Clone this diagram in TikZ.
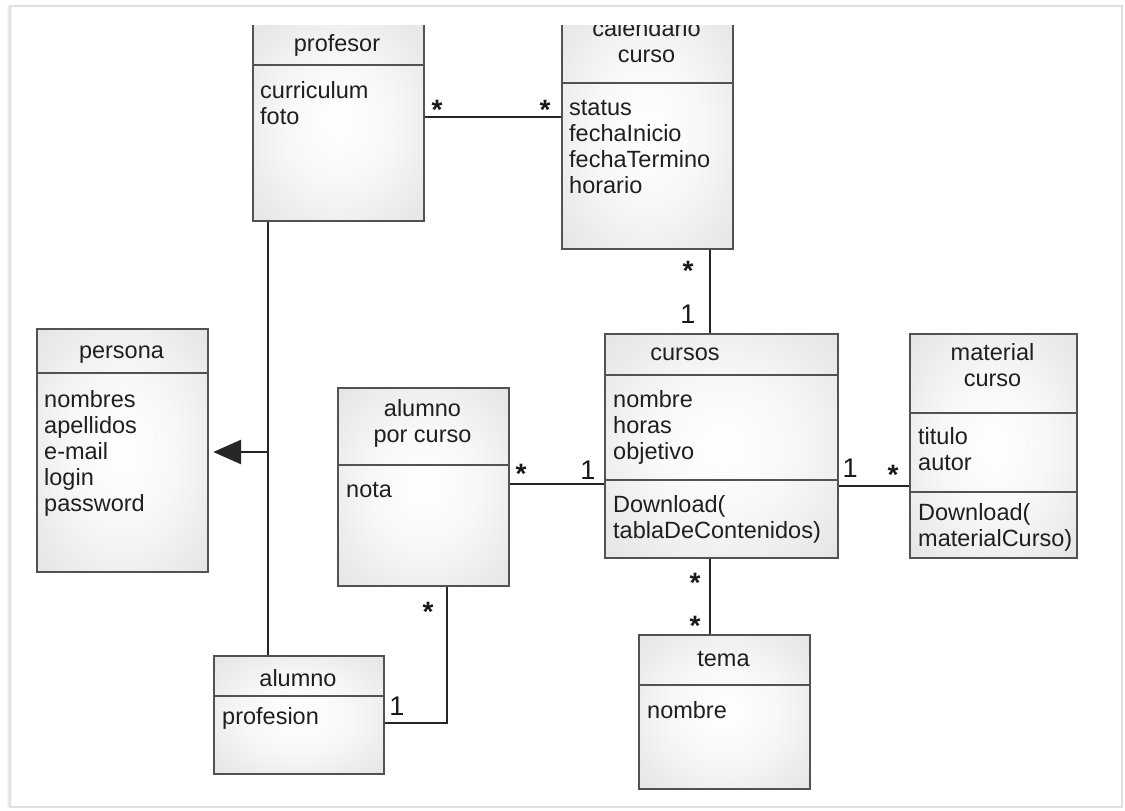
\documentclass[tikz,border=0pt]{standalone}
\usepackage{fontspec}
\setmainfont{Liberation Sans}
\usetikzlibrary{arrows.meta}

% soft grey glow used as the fill of every class box
\pgfdeclareradialshading{boxglow}{\pgfpoint{0bp}{0bp}}{%
  color(0bp)=(white); color(16bp)=(white!97!black);
  color(50bp)=(white!84!black); color(72bp)=(white!79!black)}

\tikzset{
  classbox/.style={rectangle, draw=black!68, line width=2.2pt, shade, shading=boxglow,
                   inner sep=0pt, anchor=north west},
  divider/.style={draw=black!68, line width=2.2pt},
  assoc/.style={draw=black!85, line width=2.8pt},
  head/.style={anchor=base, inner sep=0pt, text=black!88, font=\fontsize{23.5}{26}\selectfont},
  attr/.style={anchor=base west, inner sep=0pt, text=black!88, font=\fontsize{23.5}{26}\selectfont},
  mult/.style={anchor=base, inner sep=0pt, text=black!90, font=\fontsize{27}{27}\selectfont},
  star/.style={mult, font=\fontsize{28}{28}\selectfont\bfseries},
}

% one text line per entry of #4, 26pt apart, starting at baseline (#2,#3)
\newcommand{\linesat}[4]{%
  \foreach \t [count=\i from 0] in {#4} {\node[attr] (#1-\i) at (#2,#3+26*\i) {\t};}}

\begin{document}
\begin{tikzpicture}[x=1pt,y=-1pt]
\useasboundingbox (0,0) rectangle (1125,811);
\fill[white] (0,0) rectangle (1125,811);

% page edge with a faint shadow on the left
\fill[left color=black!4, right color=black!16] (7,6) rectangle (11,807);
\draw[draw=black!12, line width=1.5pt] (10,6) rectangle (1122,807);

\begin{scope}
\clip (11,25) rectangle (1121,806);

% ---------- class boxes ----------
\node[classbox, minimum width=171pt, minimum height=198pt] (prof) at (252,22) {};
\draw[divider] (prof.west |- 0,65) -- (prof.east |- 0,65);
\node[head] (prof-h) at (337,51) {profesor};
\linesat{prof-a}{260}{98}{curriculum,foto}

\node[classbox, minimum width=171pt, minimum height=238pt] (cal) at (561,10) {};
\draw[divider] (cal.west |- 0,83) -- (cal.east |- 0,83);
\node[head] (cal-h1) at (646.5,36) {calendario};
\node[head] (cal-h2) at (646.5,62) {curso};
\linesat{cal-a}{569}{115}{status,fechaInicio,fechaTermino,horario}

\node[classbox, minimum width=233pt, minimum height=224pt] (cursos) at (604,333) {};
\draw[divider] (cursos.west |- 0,375) -- (cursos.east |- 0,375);
\draw[divider] (cursos.west |- 0,480) -- (cursos.east |- 0,480);
\node[head] (cursos-h) at (685,360) {cursos};
\linesat{cursos-a}{613}{407}{nombre,horas,objetivo}
\linesat{cursos-m}{613}{512}{Download(,tablaDeContenidos)}

\node[classbox, minimum width=167pt, minimum height=224pt] (mat) at (909,333) {};
\draw[divider] (mat.west |- 0,413) -- (mat.east |- 0,413);
\draw[divider] (mat.west |- 0,492) -- (mat.east |- 0,492);
\node[head] (mat-h1) at (992.5,360) {material};
\node[head] (mat-h2) at (992.5,386) {curso};
\linesat{mat-a}{918}{444}{titulo,autor}
\linesat{mat-m}{918}{520}{Download(,materialCurso)}

\node[classbox, minimum width=171pt, minimum height=198pt] (apc) at (337,387) {};
\draw[divider] (apc.west |- 0,465) -- (apc.east |- 0,465);
\node[head] (apc-h1) at (422.5,416) {alumno};
\node[head] (apc-h2) at (422.5,442) {por curso};
\linesat{apc-a}{346}{497}{nota}

\node[classbox, minimum width=171pt, minimum height=243pt] (persona) at (36,328) {};
\draw[divider] (persona.west |- 0,373) -- (persona.east |- 0,373);
\node[head] (persona-h) at (121.5,358) {persona};
\linesat{persona-a}{44}{407}{nombres,apellidos,e-mail,login,password}

\node[classbox, minimum width=170pt, minimum height=118pt] (alumno) at (213,655) {};
\draw[divider] (alumno.west |- 0,696) -- (alumno.east |- 0,696);
\node[head] (alumno-h) at (298,686) {alumno};
\linesat{alumno-a}{222}{724}{profesion}

\node[classbox, minimum width=171pt, minimum height=154pt] (tema) at (638,634) {};
\draw[divider] (tema.west |- 0,685) -- (tema.east |- 0,685);
\node[head] (tema-h) at (723.5,666) {tema};
\linesat{tema-a}{647}{718}{nombre}

% ---------- connectors ----------
\coordinate (gen) at (268,452);
\coordinate (midx) at (710,0);
\coordinate (elbow) at (447,723);

\draw[assoc] (prof.east |- 0,117) -- (cal.west |- 0,117);
\draw[assoc] (cal.south -| midx) -- (cursos.north -| midx);
\draw[assoc] (apc.east |- 0,484) -- (cursos.west |- 0,484);
\draw[assoc] (cursos.east |- 0,486) -- (mat.west |- 0,486);
\draw[assoc] (cursos.south -| midx) -- (tema.north -| midx);
\draw[assoc] (alumno.east |- elbow) -- (elbow) -- (apc.south -| elbow);

% inheritance: profesor and alumno specialise persona
\draw[assoc] (prof.south -| gen) -- (alumno.north -| gen);
\draw[assoc, -{Triangle[length=28pt, width=24pt]}, shorten >=4pt] (gen) -- (persona.east |- gen);

% ---------- multiplicities ----------
\node[star] (m1) at (437,119) {*};
\node[star] (m2) at (545,119) {*};
\node[star] (m3) at (688,280) {*};
\node[mult] (m4) at (688,323) {1};
\node[star] (m5) at (521,483) {*};
\node[mult] (m6) at (588,479) {1};
\node[mult] (m7) at (850,477) {1};
\node[star] (m8) at (893,484) {*};
\node[star] (m9) at (695,592) {*};
\node[star] (m10) at (695,635) {*};
\node[star] (m11) at (428,621) {*};
\node[mult] (m12) at (397,715) {1};
\end{scope}
\end{tikzpicture}
\end{document}
